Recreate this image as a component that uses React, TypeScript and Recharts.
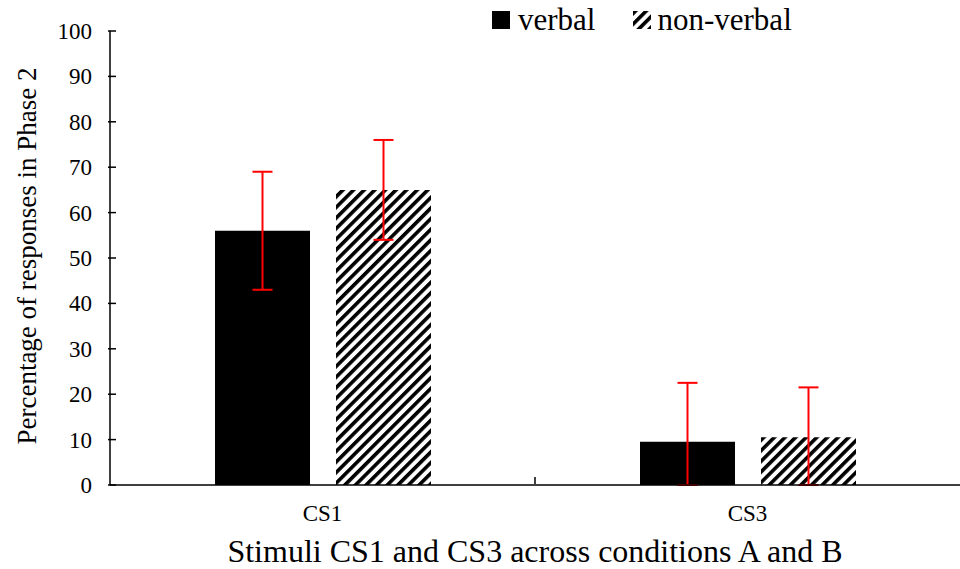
import React from "react";
import { Bar, BarChart, ErrorBar, XAxis, YAxis } from "recharts";

const categories = ["CS1", "CS3"];
const verbal = [56, 9.5];
const nonVerbal = [65, 10.5];
const verbalErr = [13, 13];
const nonVerbalErr = [11, 11];
const yTicks = [0, 10, 20, 30, 40, 50, 60, 70, 80, 90, 100];

// error bars stop at zero
const data = categories.map((name, i) => ({
    name,
    verbal: verbal[i],
    nonVerbal: nonVerbal[i],
    verbalErr: [Math.min(verbalErr[i], verbal[i]), verbalErr[i]],
    nonVerbalErr: [Math.min(nonVerbalErr[i], nonVerbal[i]), nonVerbalErr[i]],
}));

const FONT = '"Liberation Serif", "Times New Roman", serif';

const YTick = (props: any) => {
    const { x, y, payload } = props;
    return (
        <g>
            <line x1={x + 6} x2={x + 14} y1={y} y2={y} stroke="#000" strokeWidth={1.5} />
            <text x={x - 10} y={y} dy="0.35em" textAnchor="end" fontSize={23} fontFamily={FONT} fill="#000">
                {payload.value}
            </text>
        </g>
    );
};

const XTick = (props: any) => {
    const { x, y, payload, index } = props;
    return (
        <g>
            {index === 0 && payload.offset ? (
                <line x1={x + payload.offset} x2={x + payload.offset} y1={y - 9} y2={y - 16} stroke="#000" strokeWidth={1.5} />
            ) : null}
            <text x={x} y={y + 28} textAnchor="middle" fontSize={23} fontFamily={FONT} fill="#000">
                {payload.value}
            </text>
        </g>
    );
};

const YLabel = (props: any) => {
    const { viewBox } = props;
    const cy = viewBox.y + viewBox.height / 2 - 2;
    return (
        <text x={27} y={cy} transform={`rotate(-90, 27, ${cy})`} dy="0.35em" textAnchor="middle" fontSize={27} fontFamily={FONT} fill="#000">
            Percentage of responses in Phase 2
        </text>
    );
};

const XLabel = (props: any) => {
    const { viewBox } = props;
    const cx = viewBox.x + viewBox.width / 2;
    return (
        <text x={cx} y={562} textAnchor="middle" fontSize={32} fontFamily={FONT} fill="#000">
            Stimuli CS1 and CS3 across conditions A and B
        </text>
    );
};

const LegendBox = () => (
    <div style={{ position: "absolute", left: 492, top: 2, display: "flex", alignItems: "center", fontFamily: FONT, fontSize: 31, color: "#000", lineHeight: "36px" }}>
        <svg width={18} height={18} style={{ marginRight: 8 }}>
            <rect width={18} height={18} fill="#000" />
        </svg>
        <span>verbal</span>
        <svg width={18} height={18} style={{ marginLeft: 38, marginRight: 6 }}>
            <rect width={18} height={18} fill="url(#hatch)" />
        </svg>
        <span>non-verbal</span>
    </div>
);

export default function App() {
    return (
        <div style={{ position: "absolute", left: 0, top: 0, width: 960, height: 569, background: "#fff" }}>
            <BarChart
                width={960}
                height={569}
                data={data}
                margin={{ top: 31, right: 0, bottom: 44, left: 0 }}
                barGap={26}
                barCategoryGap="24.6%"
            >
                <defs>
                    <pattern id="hatch" width={7.5} height={7.5} patternUnits="userSpaceOnUse" patternTransform="rotate(45)">
                        <rect width={7.5} height={7.5} fill="#fff" />
                        <rect width={3.6} height={7.5} fill="#000" />
                    </pattern>
                </defs>
                <XAxis
                    dataKey="name"
                    axisLine={{ stroke: "#000", strokeWidth: 1.5 }}
                    tickLine={false}
                    tick={<XTick />}
                    height={40}
                    label={<XLabel />}
                />
                <YAxis
                    width={110}
                    domain={[0, 100]}
                    ticks={yTicks}
                    interval={0}
                    axisLine={{ stroke: "#000", strokeWidth: 1.5 }}
                    tickLine={false}
                    tick={<YTick />}
                    label={<YLabel />}
                />
                <Bar dataKey="verbal" fill="#000" barSize={95} isAnimationActive={false}>
                    <ErrorBar dataKey="verbalErr" stroke="#ff0000" strokeWidth={2} width={10} />
                </Bar>
                <Bar dataKey="nonVerbal" fill="url(#hatch)" barSize={95} isAnimationActive={false}>
                    <ErrorBar dataKey="nonVerbalErr" stroke="#ff0000" strokeWidth={2} width={10} />
                </Bar>
            </BarChart>
            <LegendBox />
        </div>
    );
}
